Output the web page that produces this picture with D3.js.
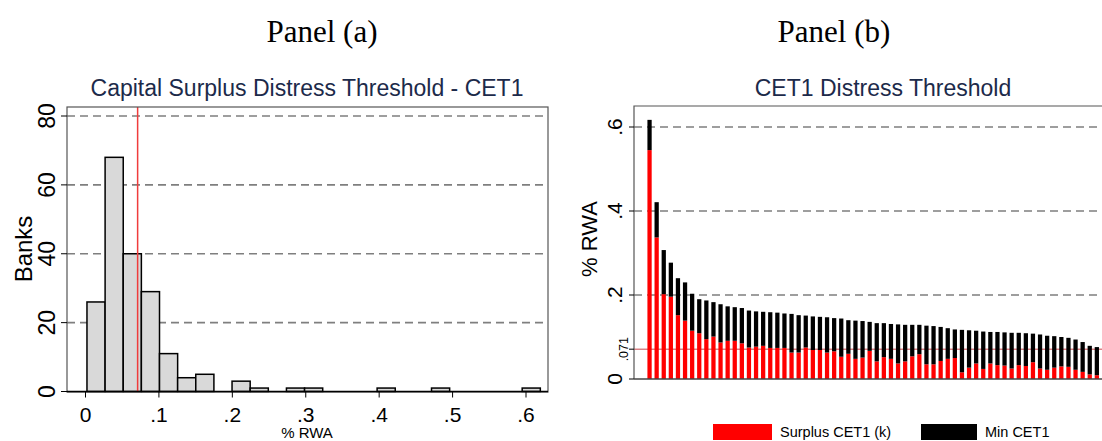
<!DOCTYPE html>
<html>
<head>
<meta charset="utf-8">
<script src="https://cdn.jsdelivr.net/npm/d3@7"></script>
<style>
  body { margin: 0; background: #fff; }
  svg { display: block; font-family: "Liberation Sans", Arial, sans-serif; }
</style>
</head>
<body>
<script>
// Panel (a): histogram of capital surplus (share of RWA)
const binStart = 0.002;
const binWidth = 0.0247;
const binCounts = [26, 68, 40, 29, 11, 4, 5, 0, 3, 1, 0, 1, 1, 0, 0, 0, 1, 0, 0, 1, 0, 0, 0, 0, 1];
const histXTicks = [0, 0.1, 0.2, 0.3, 0.4, 0.5, 0.6];
const histYTicks = [0, 20, 40, 60, 80];
const threshold = 0.071;

// Panel (b): banks sorted by CET1 distress threshold
const surplusCET1 = [.545, .337, .202, .196, .152, .139, .115, .109, .095, .101, .087, .091, .091, .085, .075, .077,
  .079, .074, .074, .074, .063, .063, .075, .069, .069, .063, .066, .053, .060, .048, .051, .067, .042, .052, .048,
  .037, .042, .054, .059, .035, .035, .043, .048, .050, .016, .027, .037, .024, .037, .033, .032, .025, .033, .031,
  .040, .025, .022, .027, .030, .029, .022, .017, .011, .009];
const minCET1 = [.072, .084, .105, .081, .088, .091, .088, .081, .092, .082, .091, .082, .080, .084, .088, .084,
  .081, .085, .084, .082, .092, .089, .076, .080, .079, .084, .079, .091, .080, .091, .087, .069, .091, .081, .083,
  .093, .087, .075, .070, .092, .091, .081, .073, .068, .101, .089, .078, .089, .075, .079, .079, .085, .077, .078,
  .068, .081, .081, .075, .070, .069, .072, .071, .068, .067];
const barYTicks = [0, 0.2, 0.4, 0.6];
const legendLabels = ["Surplus CET1 (k)", "Min CET1"];

const W = 1102, H = 441;
const titleColor = "#1c2a4a";
const gridColor = "#7f7f7f";
const fmt = d => d === 0 ? "0" : d3.format(".1f")(d).replace(/^0/, "");

const svg = d3.select("body").append("svg")
    .attr("width", W)
    .attr("height", H);

// panel headings
svg.append("g")
    .attr("font-family", "'Liberation Serif', 'Times New Roman', serif")
    .attr("font-size", 31)
    .attr("text-anchor", "middle")
  .selectAll("text")
  .data([["Panel (a)", 322], ["Panel (b)", 834]])
  .join("text")
    .attr("x", d => d[1])
    .attr("y", 42)
    .text(d => d[0]);

// ---------- Panel (a)
const a = {left: 67, right: 548, top: 107, bottom: 392};

const xa = d3.scaleLinear().domain([0, 0.6]).range([85.5, 526]);
const ya = d3.scaleLinear().domain([0, 80]).range([391.5, 116]);

const ga = svg.append("g");

ga.append("text")
    .attr("x", 307)
    .attr("y", 96)
    .attr("text-anchor", "middle")
    .attr("font-size", 23)
    .attr("fill", titleColor)
    .text("Capital Surplus Distress Threshold - CET1");

ga.append("g")
    .attr("stroke", gridColor)
    .attr("stroke-width", 1.6)
    .attr("stroke-dasharray", "8,5")
  .selectAll("line")
  .data(histYTicks.filter(d => d > 0))
  .join("line")
    .attr("x1", a.left)
    .attr("x2", a.right)
    .attr("y1", d => ya(d))
    .attr("y2", d => ya(d));

ga.append("g")
    .attr("fill", "#d9d9d9")
    .attr("stroke", "#000")
    .attr("stroke-width", 1.5)
  .selectAll("rect")
  .data(binCounts.map((c, i) => ({x0: binStart + i * binWidth, x1: binStart + (i + 1) * binWidth, c})).filter(d => d.c > 0))
  .join("rect")
    .attr("x", d => xa(d.x0))
    .attr("width", d => xa(d.x1) - xa(d.x0))
    .attr("y", d => ya(d.c))
    .attr("height", d => ya(0) - ya(d.c));

ga.append("line")
    .attr("x1", xa(threshold))
    .attr("x2", xa(threshold))
    .attr("y1", a.top)
    .attr("y2", ya(0))
    .attr("stroke", "#f03c3c")
    .attr("stroke-width", 1.5);

ga.append("rect")
    .attr("x", a.left)
    .attr("y", a.top)
    .attr("width", a.right - a.left)
    .attr("height", a.bottom - a.top)
    .attr("fill", "none")
    .attr("stroke", "#555")
    .attr("stroke-width", 1.2);

ga.append("line")
    .attr("x1", a.left).attr("x2", a.right)
    .attr("y1", ya(0)).attr("y2", ya(0))
    .attr("stroke", "#000").attr("stroke-width", 1.4);

// y axis (a)
ga.append("g")
    .attr("stroke", "#000")
  .selectAll("line")
  .data(histYTicks)
  .join("line")
    .attr("x1", a.left - 6).attr("x2", a.left)
    .attr("y1", d => ya(d)).attr("y2", d => ya(d));

ga.append("g")
    .attr("font-size", 23)
    .attr("text-anchor", "middle")
  .selectAll("text")
  .data(histYTicks)
  .join("text")
    .attr("transform", d => `translate(55,${ya(d)}) rotate(-90)`)
    .text(d => d);

ga.append("text")
    .attr("transform", `translate(32,249) rotate(-90)`)
    .attr("text-anchor", "middle")
    .attr("font-size", 24)
    .text("Banks");

// x axis (a)
ga.append("g")
    .attr("stroke", "#000")
  .selectAll("line")
  .data(histXTicks)
  .join("line")
    .attr("x1", d => xa(d)).attr("x2", d => xa(d))
    .attr("y1", ya(0)).attr("y2", ya(0) + 6);

ga.append("g")
    .attr("font-size", 21)
    .attr("text-anchor", "middle")
  .selectAll("text")
  .data(histXTicks)
  .join("text")
    .attr("x", d => xa(d))
    .attr("y", 422)
    .text(fmt);

ga.append("text")
    .attr("x", 307)
    .attr("y", 438)
    .attr("text-anchor", "middle")
    .attr("font-size", 15)
    .text("% RWA");

// ---------- Panel (b)
const b = {left: 634, right: 1110, top: 106, bottom: 379};

const rows = surplusCET1.map((s, i) => ({i, surplus: s, min: minCET1[i]}));
const series = d3.stack().keys(["surplus", "min"])(rows);

const xb = d3.scaleBand().domain(d3.range(rows.length)).range([646, 1100.4]).paddingInner(0.4).paddingOuter(0.2);
const yb = d3.scaleLinear().domain([0, 0.6]).range([379, 127]);

const gb = svg.append("g");

gb.append("text")
    .attr("x", 883)
    .attr("y", 96)
    .attr("text-anchor", "middle")
    .attr("font-size", 23)
    .attr("fill", titleColor)
    .text("CET1 Distress Threshold");

gb.append("g")
    .attr("stroke", gridColor)
    .attr("stroke-width", 1.6)
    .attr("stroke-dasharray", "8,5")
  .selectAll("line")
  .data(barYTicks.filter(d => d > 0))
  .join("line")
    .attr("x1", b.left)
    .attr("x2", W)
    .attr("y1", d => yb(d))
    .attr("y2", d => yb(d));

gb.append("line")
    .attr("x1", b.left).attr("x2", W)
    .attr("y1", yb(threshold)).attr("y2", yb(threshold))
    .attr("stroke", "#c8454a")
    .attr("stroke-width", 1);

gb.append("g")
  .selectAll("g")
  .data(series)
  .join("g")
    .attr("fill", d => d.key === "surplus" ? "#ff0000" : "#000")
  .selectAll("rect")
  .data(d => d)
  .join("rect")
    .attr("x", d => xb(d.data.i))
    .attr("width", xb.bandwidth())
    .attr("y", d => yb(d[1]))
    .attr("height", d => yb(d[0]) - yb(d[1]));

gb.append("path")
    .attr("d", `M${b.right},${b.top}H${b.left}V${b.bottom}`)
    .attr("fill", "none")
    .attr("stroke", "#555")
    .attr("stroke-width", 1.2);

gb.append("line")
    .attr("x1", b.left).attr("x2", W)
    .attr("y1", yb(0)).attr("y2", yb(0))
    .attr("stroke", "#444").attr("stroke-width", 1.4);

const bTicks = barYTicks.concat([threshold]);
gb.append("g")
    .attr("stroke", "#000")
  .selectAll("line")
  .data(bTicks)
  .join("line")
    .attr("x1", b.left - 5).attr("x2", b.left)
    .attr("y1", d => yb(d)).attr("y2", d => yb(d));

gb.append("g")
    .attr("text-anchor", "middle")
  .selectAll("text")
  .data(bTicks)
  .join("text")
    .attr("transform", d => `translate(${d === threshold ? 628 : 622},${yb(d)}) rotate(-90)`)
    .attr("font-size", d => d === threshold ? 12.5 : 21)
    .text(d => d === threshold ? ".071" : fmt(d));

gb.append("text")
    .attr("transform", `translate(597,239) rotate(-90)`)
    .attr("text-anchor", "middle")
    .attr("font-size", 22)
    .text("% RWA");

// legend
const legend = gb.append("g")
  .selectAll("g")
  .data(legendLabels)
  .join("g")
    .attr("transform", (d, i) => `translate(${i === 0 ? 713 : 921},424)`);

legend.append("rect")
    .attr("width", (d, i) => i === 0 ? 59 : 56)
    .attr("height", 16)
    .attr("fill", (d, i) => i === 0 ? "#ff0000" : "#000");

legend.append("text")
    .attr("x", (d, i) => i === 0 ? 67 : 64)
    .attr("y", 13)
    .attr("font-size", 14.5)
    .text(d => d);
</script>
</body>
</html>
